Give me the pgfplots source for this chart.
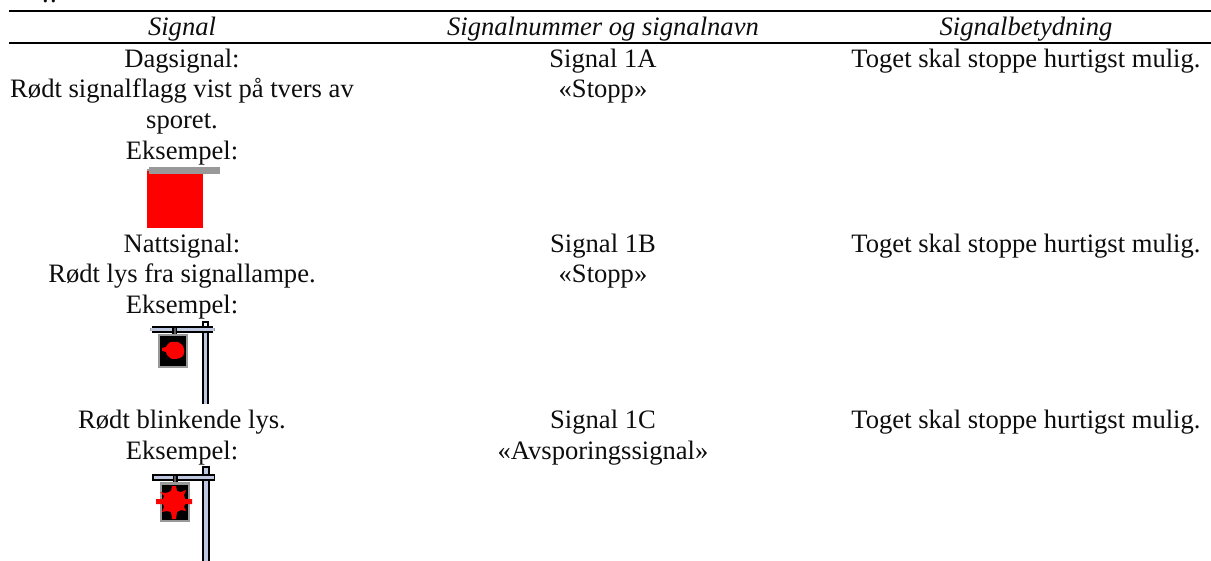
\documentclass[border=0pt]{standalone}
\usepackage{pgfplots}
\pgfplotsset{compat=1.18}
\usepackage{fontspec}
\setmainfont{Liberation Serif}
\definecolor{postblue}{RGB}{190,200,225}
\definecolor{sgray}{RGB}{153,153,153}
\definecolor{dgray}{RGB}{90,90,90}
\newcommand{\tfont}{\fontsize{26.6}{30.5}\selectfont}
\tikzset{T/.style={font=\tfont,anchor=base,inner sep=0pt,text=black!95},
 H/.style={font=\tfont\itshape,anchor=base,inner sep=0pt,text=black!95}}
\pgfplotsset{F/.style={draw=none,fill=#1}}
\begin{document}
\begin{tikzpicture}[x=1pt,y=1pt]
\clip (0,0) rectangle (1211,561);
\begin{axis}[at={(0,0)},anchor=south west,scale only axis,width=1211pt,height=561pt,
 xmin=0,xmax=1211,ymin=0,ymax=561,y dir=reverse,axis lines=none,clip=true]
% rules
\addplot[black,line width=2pt] coordinates {(9,11) (1211,11)};
\addplot[black,line width=2pt] coordinates {(9,43) (1211,43)};
% flag
\addplot[F=red] coordinates {(147,171) (203,171) (203,228) (147,228)} --cycle;
\addplot[F=sgray] coordinates {(147,169) (149,169) (149,171) (147,171)} --cycle;
\addplot[F=sgray] coordinates {(149,167) (220,167) (220,174) (149,174)} --cycle;
% night signal: post
\addplot[F=black] coordinates {(202,321) (209,321) (209,404) (202,404)} --cycle;
\addplot[F=white] coordinates {(204,323) (207,323) (207,326) (204,326)} --cycle;
\addplot[F=postblue] coordinates {(204,331) (207,331) (207,404) (204,404)} --cycle;
% night signal: cross bar
\addplot[F=sgray] coordinates {(150,328) (215,328) (215,331) (150,331)} --cycle;
\addplot[F=postblue] coordinates {(151,328) (214,328) (214,331) (151,331)} --cycle;
\addplot[F=black] coordinates {(152,326) (213,326) (213,328) (152,328)} --cycle;
\addplot[F=black] coordinates {(152,331) (213,331) (213,333) (152,333)} --cycle;
% night signal: hanger, box, lamp
\addplot[F=black] coordinates {(172,328) (177,328) (177,336) (172,336)} --cycle;
\addplot[F=dgray] coordinates {(173.5,328) (175.5,328) (175.5,336) (173.5,336)} --cycle;
\addplot[F=sgray] coordinates {(158,334) (188,334) (188,368) (158,368)} --cycle;
\addplot[F=black] coordinates {(160,336) (186,336) (186,366) (160,366)} --cycle;
\addplot[F=red] coordinates {(171,342) (178,342) (181,344) (183,346) (184,349) (184,353) (183,356) (180,358) (176,359) (172,359) (169,357) (167,355) (166,352) (162,351) (162,348) (166,347) (167,345) (169,343)} --cycle;
% flashing signal: post
\addplot[F=black] coordinates {(202,466) (210,466) (210,561) (202,561)} --cycle;
\addplot[F=postblue] coordinates {(204,468) (208,468) (208,561) (204,561)} --cycle;
% flashing signal: cross bar
\addplot[F=black] coordinates {(152,474) (215,474) (215,481) (152,481)} --cycle;
\addplot[F=postblue] coordinates {(154,476) (214,476) (214,479) (154,479)} --cycle;
% flashing signal: hanger, box, lamp
\addplot[F=black] coordinates {(172.5,476) (177.5,476) (177.5,485) (172.5,485)} --cycle;
\addplot[F=dgray] coordinates {(174,476) (176,476) (176,485) (174,485)} --cycle;
\addplot[F=sgray] coordinates {(160,482) (190,482) (190,522) (160,522)} --cycle;
\addplot[F=black] coordinates {(162,484.5) (188,484.5) (188,519.5) (162,519.5)} --cycle;
\addplot[F=red] coordinates {(172,486) (176,486) (177,491) (181,492) (186,490) (184,495) (185,499) (192,499) (192,504) (185,504) (184,507) (186,511) (181,510) (177,512) (176,519) (172,519) (171,512) (167,511) (162,512) (164,507) (163,504) (156,504) (156,499) (163,499) (164,496) (160,492) (166,493) (171,491)} --cycle;
% texts
\node[H] at (axis cs:182,35.5) {Signal};
\node[H] at (axis cs:603,35.5) {Signalnummer og signalnavn};
\node[H] at (axis cs:1026,35.5) {Signalbetydning};
\node[T] at (axis cs:182,67.5) {Dagsignal:};
\node[T] at (axis cs:182,98) {Rødt signalflagg vist på tvers av};
\node[T] at (axis cs:182,128.5) {sporet.};
\node[T] at (axis cs:182,159.5) {Eksempel:};
\node[T] at (axis cs:603,67.5) {Signal 1A};
\node[T] at (axis cs:603,98) {«Stopp»};
\node[T] at (axis cs:1026,67.5) {Toget skal stoppe hurtigst mulig.};
\node[T] at (axis cs:182,253) {Nattsignal:};
\node[T] at (axis cs:182,283) {Rødt lys fra signallampe.};
\node[T] at (axis cs:182,313.5) {Eksempel:};
\node[T] at (axis cs:603,253) {Signal 1B};
\node[T] at (axis cs:603,283) {«Stopp»};
\node[T] at (axis cs:1026,253) {Toget skal stoppe hurtigst mulig.};
\node[T] at (axis cs:182,428.5) {Rødt blinkende lys.};
\node[T] at (axis cs:182,459.5) {Eksempel:};
\node[T] at (axis cs:603,428.5) {Signal 1C};
\node[T] at (axis cs:603,459.5) {«Avsporingssignal»};
\node[T] at (axis cs:1026,428.5) {Toget skal stoppe hurtigst mulig.};
\node[T] at (axis cs:45.5,3) {.};
\node[T] at (axis cs:53.5,3) {.};
\end{axis}
\end{tikzpicture}
\end{document}
